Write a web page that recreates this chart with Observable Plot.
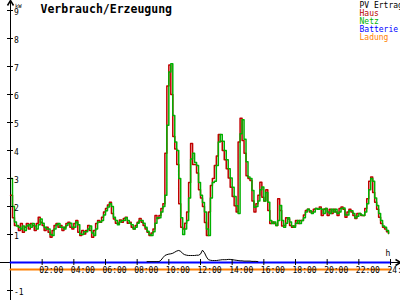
<!DOCTYPE html>
<html><head><meta charset="utf-8">
<script src="https://cdn.jsdelivr.net/npm/d3@7"></script>
<script src="https://cdn.jsdelivr.net/npm/@observablehq/plot@0.6"></script>
<style>html,body{margin:0;padding:0;background:#fff;} svg{display:block}</style>
</head><body><div id="chart"></div>
<script>
const title = "Verbrauch/Erzeugung";
const seriesNames = ["PV Ertrag", "Haus", "Netz", "Batterie", "Ladung"];
const seriesColors = ["#000000", "#b80000", "#00b000", "#0000ff", "#ff8000"];
const yUnit = "kW";
const xUnit = "h";
const stepMinutes = 7.5;

// Haus consumption (kW), one value per 7.5 minutes from 00:00
const haus = [
2.4, 1.6, 1.32, 1.32, 1.14, 1.39, 1.08, 1.26, 1.39, 1.2,
1.39, 1.32, 1.14, 1.39, 1.62, 1.44, 1.32, 1.14, 1.26, 1.08,
0.9, 1.14, 1.32, 1.39, 1.26, 1.32, 1.14, 1.26, 1.39, 1.44,
1.26, 1.2, 1.39, 1.5, 1.08, 0.96, 1.14, 1.02, 1.14, 1.32,
1.14, 0.9, 1.14, 1.39, 1.5, 1.44, 1.62, 1.8, 1.93, 2.05,
2.15, 1.75, 1.55, 1.4, 1.4, 1.52, 1.44, 1.57, 1.62, 1.4,
1.44, 1.26, 1.2, 1.32, 1.44, 1.57, 1.44, 1.32, 1.2, 1.08,
0.96, 1.05, 1.2, 1.68, 1.57, 1.68, 1.93, 2.1, 3.9, 6.3,
7.05, 6.0, 4.5, 4.05, 3.5, 2.1, 1.26, 1.2, 1.4, 1.8,
2.86, 4.25, 3.5, 3.5, 3.2, 2.6, 2.3, 2.0, 1.43, 0.96,
1.8, 2.75, 3.0, 3.46, 3.8, 4.57, 4.33, 4.0, 3.67, 3.35,
3.02, 2.69, 2.36, 2.03, 1.8, 4.3, 5.15, 4.36, 3.9, 3.1,
3.0, 2.93, 2.2, 1.8, 2.1, 2.4, 2.87, 2.33, 2.2, 2.6,
1.86, 1.39, 1.45, 1.39, 1.32, 2.28, 1.86, 1.3, 1.32, 1.6,
1.55, 1.32, 1.26, 1.3, 1.5, 1.39, 1.5, 1.5, 1.7, 1.86,
1.9, 1.8, 1.8, 1.9, 1.93, 1.9, 1.98, 1.68, 1.9, 1.93,
1.68, 1.9, 1.75, 1.9, 1.8, 1.68, 1.93, 1.98, 1.9, 1.62,
1.8, 1.9, 1.8, 1.68, 1.57, 1.75, 1.75, 1.68, 1.68, 1.93,
2.28, 2.9, 3.05, 2.5, 2.15, 1.9, 1.62, 1.39, 1.26, 1.2,
1.1, 1.04
];

// Netz (grid) power (kW), same timing
const netz = [
3.0, 2.0, 1.45, 1.3, 1.26, 1.2, 1.3, 1.14, 1.3, 1.35,
1.26, 1.39, 1.3, 1.2, 1.35, 1.55, 1.4, 1.26, 1.2, 1.2,
1.0, 0.96, 1.2, 1.35, 1.39, 1.26, 1.26, 1.2, 1.32, 1.39,
1.4, 1.26, 1.26, 1.45, 1.35, 1.02, 1.0, 1.1, 1.1, 1.2,
1.3, 1.05, 0.96, 1.2, 1.45, 1.45, 1.5, 1.7, 1.85, 1.98,
2.1, 2.0, 1.62, 1.5, 1.35, 1.45, 1.5, 1.5, 1.6, 1.5,
1.4, 1.35, 1.2, 1.26, 1.4, 1.5, 1.5, 1.4, 1.26, 1.12,
1.0, 0.96, 1.1, 1.4, 1.6, 1.6, 1.8, 2.0, 2.4, 4.9,
6.8, 7.1, 5.25, 4.3, 4.0, 3.0, 1.6, 1.0, 1.2, 1.5,
2.3, 3.7, 3.9, 3.57, 3.46, 2.86, 2.4, 2.14, 1.8, 1.2,
0.96, 2.3, 2.86, 2.9, 3.46, 4.3, 4.57, 4.33, 4.0, 3.67,
3.35, 3.02, 2.69, 2.36, 2.03, 1.75, 4.6, 5.1, 4.4, 3.6,
3.05, 3.0, 2.57, 1.97, 2.0, 2.2, 2.6, 2.7, 2.2, 2.5,
2.15, 1.5, 1.39, 1.45, 1.32, 1.5, 2.04, 1.5, 1.26, 1.4,
1.6, 1.45, 1.3, 1.26, 1.4, 1.5, 1.39, 1.5, 1.6, 1.8,
1.9, 1.85, 1.75, 1.8, 1.93, 1.9, 1.93, 1.9, 1.75, 1.93,
1.8, 1.75, 1.9, 1.8, 1.9, 1.75, 1.8, 1.93, 1.95, 1.7,
1.7, 1.85, 1.85, 1.75, 1.6, 1.65, 1.75, 1.7, 1.68, 1.8,
2.1, 2.6, 3.0, 2.9, 2.3, 2.04, 1.75, 1.5, 1.3, 1.26,
1.14, 1.04
];

// PV Ertrag (kW), starting at sample index 69 (08:37:30)
const pvStartIndex = 69;
const pv = [
0.03, 0.03, 0.03, 0.03, 0.03, 0.03, 0.03, 0.08, 0.17, 0.25,
0.28, 0.3, 0.31, 0.33, 0.37, 0.41, 0.43, 0.4, 0.32, 0.28,
0.26, 0.25, 0.25, 0.25, 0.25, 0.26, 0.26, 0.3, 0.44, 0.35,
0.2, 0.1, 0.08, 0.07, 0.07, 0.07, 0.08, 0.09, 0.1, 0.1,
0.1, 0.11, 0.11, 0.1, 0.09, 0.08, 0.07, 0.06, 0.06, 0.05,
0.05, 0.05, 0.05, 0.04, 0.04, 0.04, 0.03
];

const flatHours = [0, 24];
const batterie = [0, 0];
const ladung = [-0.25, -0.25];

const xTickHours = [2, 4, 6, 8, 10, 12, 14, 16, 18, 20, 22, 24];
const xTickLabels = ["02:00", "04:00", "06:00", "08:00", "10:00", "12:00", "14:00", "16:00", "18:00", "20:00", "22:00", "24:00"];
const yTicks = [-1, 1, 2, 3, 4, 5, 6, 7, 8, 9];

const hausData = haus.map((v, i) => ({t: i * stepMinutes / 60, v}));
const netzData = netz.map((v, i) => ({t: i * stepMinutes / 60, v}));
const pvData = pv.map((v, i) => ({t: (pvStartIndex + i) * stepMinutes / 60, v}));
const batData = flatHours.map((t, i) => ({t, v: batterie[i]}));
const ladData = flatHours.map((t, i) => ({t, v: ladung[i]}));

const mono = "DejaVu Sans Mono";
const chevronUp = {draw(ctx) { ctx.moveTo(-3, 5); ctx.lineTo(0, 0); ctx.lineTo(3, 5); }};
const chevronRight = {draw(ctx) { ctx.moveTo(-5, -3); ctx.lineTo(0, 0); ctx.lineTo(-5, 3); }};

const legendMarks = seriesNames.map((name, k) =>
  Plot.text([name], {frameAnchor: "top-left", dx: 359, dy: 7 + 8 * k, lineAnchor: "bottom",
    textAnchor: "start", fill: seriesColors[k], fontSize: 8, fontFamily: mono})
);

const chart = Plot.plot({
  width: 400, height: 300, margin: 0,
  style: {fontFamily: mono, background: "#fff"},
  x: {domain: [0, 24], range: [10, 390], axis: null},
  y: {domain: [-1, 9], range: [290, 10], axis: null},
  marks: [
    Plot.ruleY([0], {stroke: "#000"}),
    Plot.ruleX([0], {stroke: "#000"}),
    Plot.line(ladData, {x: "t", y: "v", stroke: seriesColors[4], strokeWidth: 2}),
    Plot.line(batData, {x: "t", y: "v", stroke: seriesColors[3], strokeWidth: 2}),
    Plot.line(pvData, {x: "t", y: "v", stroke: seriesColors[0], strokeWidth: 1}),
    Plot.line(hausData, {x: "t", y: "v", stroke: "#c00000", strokeWidth: 1.5, curve: "step-after"}),
    Plot.line(netzData, {x: "t", y: "v", stroke: seriesColors[2], strokeWidth: 1.5, curve: "step-after"}),
    Plot.ruleX(xTickHours, {x: d => d, y1: 0, y2: 0, insetTop: -3, insetBottom: -3, stroke: "#000"}),
    Plot.ruleY(yTicks, {y: d => d, x1: 0, x2: 0, insetLeft: -3, insetRight: -3, stroke: "#000"}),
    Plot.text(xTickHours, {x: d => d, y: 0, text: (d, i) => xTickLabels[i], textAnchor: "start",
      dx: -3, dy: 7.5, fontSize: 8, fill: "#000"}),
    Plot.text(yTicks, {x: 0, y: d => d, text: d => String(d), textAnchor: "start",
      dx: 3.5, dy: 1.5, fontSize: 8, fill: "#000"}),
    Plot.text([yUnit], {frameAnchor: "top-left", dx: 14.5, dy: 3.5, textAnchor: "start", fontSize: 5.5, fill: "#000"}),
    Plot.text([xUnit], {x: 24, y: 0, dx: -5, dy: -9, textAnchor: "start", fontSize: 8, fill: "#000"}),
    Plot.dot([0], {x: d => d, frameAnchor: "top", symbol: chevronUp, stroke: "#000", fill: "none"}),
    Plot.dot([0], {y: d => d, frameAnchor: "right", symbol: chevronRight, stroke: "#000", fill: "none"}),
    Plot.text([title], {frameAnchor: "top-left", dx: 40, dy: 12.5, lineAnchor: "bottom", textAnchor: "start",
      fontSize: 11.5, fontWeight: "bold", fontFamily: mono, fill: "#000"}),
    ...legendMarks
  ]
});
document.getElementById("chart").appendChild(chart);
</script>
</body></html>
